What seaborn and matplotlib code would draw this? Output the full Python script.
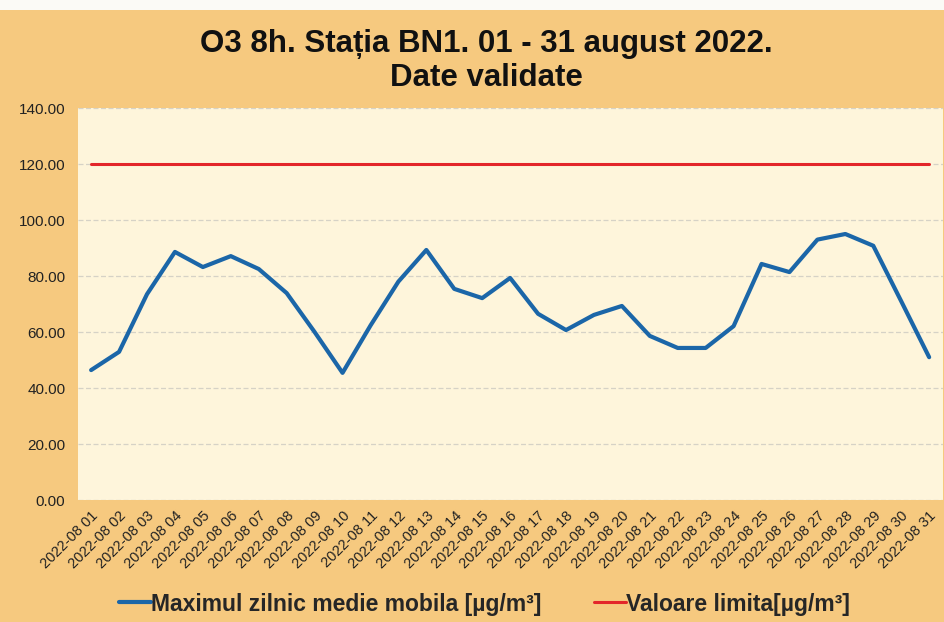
import matplotlib
matplotlib.use("Agg")
import matplotlib.pyplot as plt
import seaborn as sns
import pandas as pd
from matplotlib.patches import Rectangle

days = ["2022-08 %02d" % d for d in range(1, 32)]
o3_max = [46.4, 52.9, 73.5, 88.6, 83.2, 87.1, 82.5, 73.9, 60.0, 45.4,
          62.3, 78.0, 89.3, 75.4, 72.1, 79.3, 66.5, 60.7, 66.1, 69.3,
          58.6, 54.3, 54.3, 62.1, 84.3, 81.4, 93.0, 95.0, 90.8, 71.0, 51.0]
limit = [120.0, 120.0, 120.0, 120.0, 120.0, 120.0, 120.0, 120.0, 120.0, 120.0,
         120.0, 120.0, 120.0, 120.0, 120.0, 120.0, 120.0, 120.0, 120.0, 120.0,
         120.0, 120.0, 120.0, 120.0, 120.0, 120.0, 120.0, 120.0, 120.0, 120.0, 120.0]
yticks = [0, 20, 40, 60, 80, 100, 120, 140]

title = "O3 8h. Stația BN1. 01 - 31 august 2022.\nDate validate"
name_o3 = "Maximul zilnic medie mobila [µg/m³]"
name_lim = "Valoare limita[µg/m³]"

df = pd.DataFrame({"day": days, "pos": range(len(days)), "o3": o3_max, "lim": limit})

sns.set_theme(style="white")
plt.rcParams["font.family"] = ["Liberation Sans", "DejaVu Sans"]

ORANGE = "#F6C97F"
CREAM = "#FEF5DB"
BLUE = "#1B66A8"
RED = "#E3262A"

fig = plt.figure(figsize=(9.45, 6.22), dpi=100, facecolor=ORANGE)
fig.patches.append(Rectangle((0, 1 - 10 / 622), 1, 10 / 622, transform=fig.transFigure,
                             facecolor="#FBFAF6", edgecolor="none", zorder=0))
ax = fig.add_axes([78 / 945, 1 - 500 / 622, 1 - 78 / 945 - 0.002, 392 / 622])
ax.set_facecolor(CREAM)

sns.lineplot(data=df, x="pos", y="lim", ax=ax, color=RED, linewidth=2.2, label=name_lim)
sns.lineplot(data=df, x="pos", y="o3", ax=ax, color=BLUE, linewidth=3.0, label=name_o3)

ax.set_xlim(-0.47, 30.5)
ax.set_ylim(0, 140)
ax.set_yticks(yticks)
ax.set_yticklabels(["%.2f" % v for v in yticks], fontsize=11, color="#222222")
ax.set_xticks(df["pos"])
ax.set_xticklabels(days, rotation=45, ha="right", rotation_mode="anchor",
                   fontsize=10.5, color="#222222")
ax.tick_params(axis="y", length=0, pad=9)
ax.tick_params(axis="x", length=0, pad=6)
ax.set_xlabel("")
ax.set_ylabel("")
ax.grid(axis="y", color="#D6D2C6", linewidth=0.9, linestyle=(0, (4, 2)))
ax.set_axisbelow(True)
for s in ax.spines.values():
    s.set_visible(False)

fig.text(0.515, 1 - 61 / 622, title, ha="center", va="center", fontsize=22.5,
         fontweight="bold", family=["Liberation Sans Narrow", "Liberation Sans", "DejaVu Sans"],
         linespacing=1.15, color="#111111")

h, l = ax.get_legend_handles_labels()
order = [1, 0]
ax.legend([h[i] for i in order], [l[i] for i in order], loc="center",
          bbox_to_anchor=(0.513, 1 - 604 / 622), bbox_transform=fig.transFigure,
          ncol=2, frameon=False, handlelength=1.4, handletextpad=0.0, columnspacing=2.3,
          prop={"weight": "bold", "size": 16.5})

fig.savefig("out.png", dpi=100, facecolor=ORANGE)
